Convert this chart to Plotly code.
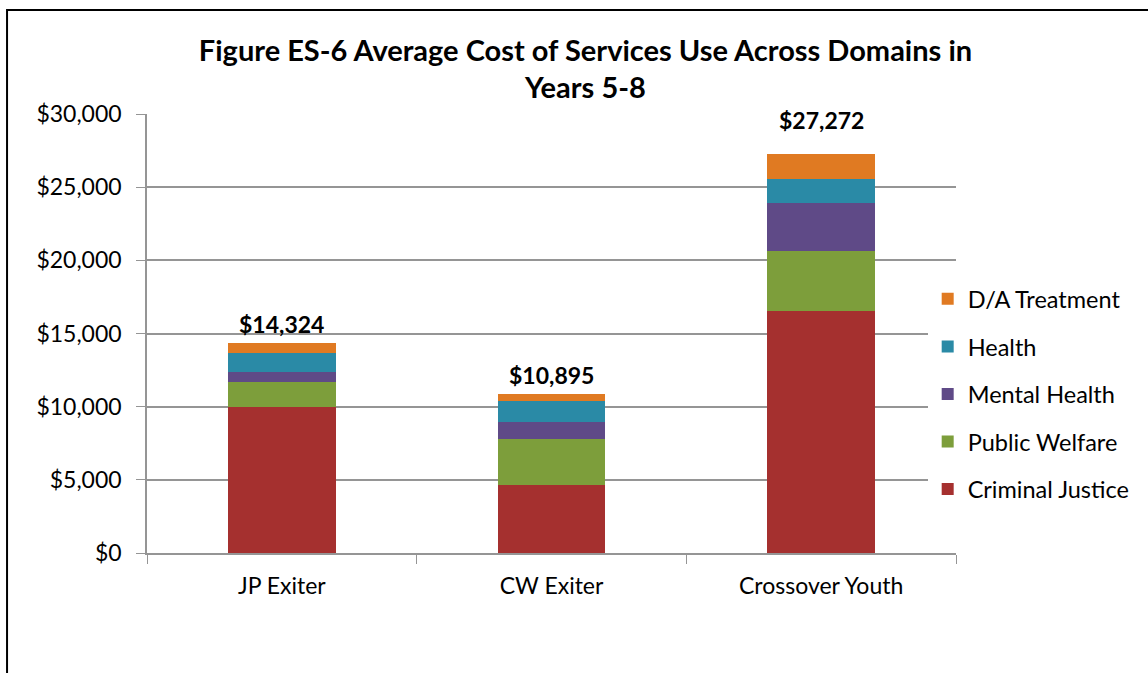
import plotly.graph_objects as go

categories = ["JP Exiter", "CW Exiter", "Crossover Youth"]
criminal_justice = [9980, 4650, 16540]
public_welfare = [1710, 3140, 4100]
mental_health = [680, 1180, 3260]
health = [1300, 1420, 1660]
da_treatment = [654, 505, 1712]
totals = [14324, 10895, 27272]
total_labels = ["$14,324", "$10,895", "$27,272"]

series = [
    ("Criminal Justice", criminal_justice, "#A5302F"),
    ("Public Welfare", public_welfare, "#7D9E3B"),
    ("Mental Health", mental_health, "#5F4A87"),
    ("Health", health, "#2A8AA6"),
    ("D/A Treatment", da_treatment, "#E07A22"),
]

FONT = "Lato, 'Open Sans', sans-serif"

fig = go.Figure()
for i, (name, vals, color) in enumerate(series):
    fig.add_trace(go.Bar(
        x=categories, y=vals, name=name, legendgroup=name, legendrank=1000 - i,
        marker=dict(color=color, line=dict(width=0)),
    ))

label_shift = [3, 3, 18]
for c, t, lab, ys in zip(categories, totals, total_labels, label_shift):
    fig.add_annotation(x=c, y=t, text="<b>%s</b>" % lab, showarrow=False,
                       yanchor="bottom", yshift=ys,
                       font=dict(family=FONT, size=23, color="black"))

fig.update_layout(
    width=1148, height=673,
    margin=dict(l=147, r=192, t=114, b=120, autoexpand=False),
    paper_bgcolor="white", plot_bgcolor="white",
    barmode="stack", bargap=0.6,
    title=dict(text="<b>Figure ES-6 Average Cost of Services Use Across Domains in<br>Years 5-8</b>",
               x=0.51, xanchor="center", y=0.91, yanchor="top",
               font=dict(family=FONT, size=29, color="black")),
    font=dict(family=FONT, color="black"),
    legend=dict(x=0.965, xanchor="left", y=0.362, yanchor="middle",
                traceorder="grouped", tracegroupgap=14,
                font=dict(family=FONT, size=23.5, color="black"),
                itemwidth=30),
    showlegend=True,
)
fig.update_yaxes(range=[0, 30000], dtick=5000, tickformat="$,",
                 showgrid=True, gridcolor="#959595", gridwidth=1.5,
                 showline=True, linecolor="#959595", linewidth=1.5,
                 ticks="outside", ticklen=9, tickcolor="#959595", ticklabelstandoff=10,
                 tickfont=dict(family=FONT, size=23, color="black"), zeroline=False)
fig.update_xaxes(showline=True, linecolor="#959595", linewidth=1.5,
                 ticks="outside", ticklen=9, tickcolor="#959595", tickson="boundaries",
                 ticklabelstandoff=12,
                 tickfont=dict(family=FONT, size=23, color="black"))

fig.add_shape(type="rect", xref="paper", yref="paper",
              x0=-0.173, x1=1.5, y0=-0.6, y1=1.237,
              line=dict(color="black", width=2), layer="below")

fig.write_html("out.html")
